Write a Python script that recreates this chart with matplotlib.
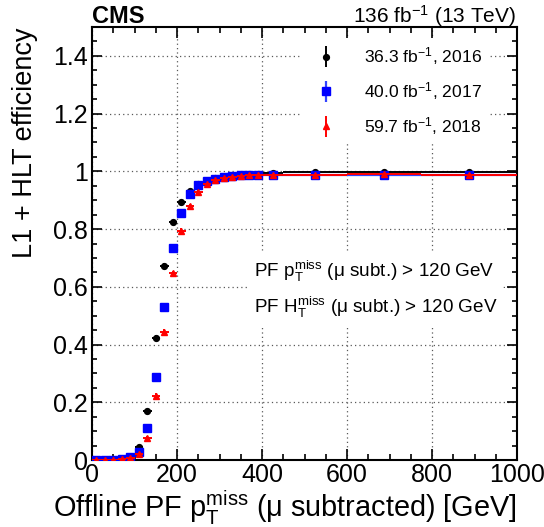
import matplotlib
matplotlib.use("Agg")
import matplotlib.pyplot as plt
import numpy as np
from matplotlib.ticker import MultipleLocator
from matplotlib.legend_handler import HandlerErrorbar
from matplotlib.container import ErrorbarContainer

plt.rcParams['font.family'] = ['Liberation Sans', 'DejaVu Sans']
plt.rcParams['mathtext.fontset'] = 'custom'
plt.rcParams['mathtext.rm'] = 'Liberation Sans'
plt.rcParams['mathtext.it'] = 'Liberation Sans'
plt.rcParams['mathtext.bf'] = 'Liberation Sans:bold'

# ---- data ----
bin_centers = [10, 30, 50, 70, 90, 110, 130, 150, 170, 190, 210, 230, 250, 270,
               290, 310, 330, 350, 370, 390, 425, 525, 687.5, 887.5]
bin_half_widths = [10] * 20 + [25, 75, 87.5, 112.5]

eff_2016 = [0.0, 0.0, 0.001, 0.003, 0.008, 0.044, 0.170, 0.423, 0.672, 0.823,
            0.893, 0.931, 0.955, 0.968, 0.977, 0.982, 0.985, 0.988, 0.990, 0.991,
            0.993, 0.996, 0.998, 0.998]
eff_2017 = [0.0, 0.0, 0.001, 0.004, 0.010, 0.026, 0.110, 0.289, 0.529, 0.734,
            0.857, 0.921, 0.952, 0.966, 0.975, 0.980, 0.983, 0.986, 0.987, 0.988,
            0.988, 0.989, 0.989, 0.988]
eff_2018 = [0.0, 0.0, 0.001, 0.003, 0.007, 0.021, 0.077, 0.223, 0.444, 0.647,
            0.795, 0.880, 0.929, 0.955, 0.969, 0.976, 0.981, 0.985, 0.986, 0.986,
            0.988, 0.989, 0.990, 0.989]
err_2016 = [0.001, 0.001, 0.001, 0.002, 0.003, 0.005, 0.008, 0.010, 0.010, 0.009,
            0.008, 0.007, 0.006, 0.005, 0.004, 0.004, 0.004, 0.003, 0.003, 0.003,
            0.002, 0.002, 0.002, 0.003]
err_2017 = [0.001, 0.001, 0.001, 0.002, 0.003, 0.004, 0.007, 0.009, 0.010, 0.009,
            0.007, 0.006, 0.005, 0.004, 0.004, 0.003, 0.003, 0.003, 0.003, 0.003,
            0.002, 0.002, 0.002, 0.003]
err_2018 = [0.001, 0.001, 0.001, 0.002, 0.003, 0.004, 0.006, 0.008, 0.009, 0.008,
            0.007, 0.006, 0.005, 0.004, 0.003, 0.003, 0.003, 0.002, 0.002, 0.002,
            0.002, 0.002, 0.002, 0.002]

labels = [r'36.3 fb$^{-1}$, 2016', r'40.0 fb$^{-1}$, 2017', r'59.7 fb$^{-1}$, 2018']
ytick_vals = [0, 0.2, 0.4, 0.6, 0.8, 1.0, 1.2, 1.4]
ytick_labels = ['0', '0.2', '0.4', '0.6', '0.8', '1', '1.2', '1.4']

# ---- figure ----
fig = plt.figure(figsize=(5.44, 5.27), dpi=100)
ax = fig.add_axes([92/544, 1-460/527, 425/544, 433/527])

x = np.array(bin_centers)
xe = np.array(bin_half_widths)

h1 = ax.errorbar(x, eff_2016, xerr=xe, yerr=err_2016, fmt='o', color='black',
                 ms=4.2, elinewidth=1.4, capsize=0, zorder=3)
h2 = ax.errorbar(x, eff_2017, xerr=xe, yerr=err_2017, fmt='s', color='#0000ff',
                 ecolor='#3344ff', ms=5.5, elinewidth=1.6, capsize=0, zorder=4)
h3 = ax.errorbar(x, eff_2018, xerr=xe, yerr=err_2018, fmt='^', color='#ff0000',
                 ms=5.0, elinewidth=1.4, capsize=0, zorder=5)

ax.set_xlim(0, 1000)
ax.set_ylim(0, 1.5)
ax.xaxis.set_major_locator(MultipleLocator(200))
ax.xaxis.set_minor_locator(MultipleLocator(50))
ax.yaxis.set_minor_locator(MultipleLocator(0.05))
ax.set_yticks(ytick_vals)
ax.set_yticklabels(ytick_labels)
ax.tick_params(which='both', direction='in', top=True, right=True, labelsize=18)
ax.tick_params(axis='x', which='major', length=8, width=1.2, pad=2)
ax.tick_params(axis='x', which='minor', length=4, width=1.2)
ax.tick_params(axis='y', which='major', length=7, width=1.2, pad=3)
ax.tick_params(axis='y', which='minor', length=3.5, width=1.2)
for s in ax.spines.values():
    s.set_linewidth(1.5)
ax.grid(True, which='major', linestyle=(0, (1, 2.5)), color='0.35', linewidth=0.9)
ax.set_axisbelow(True)

ax.set_xlabel(r'Offline PF $\mathrm{p}_{\mathrm{T}}^{\mathrm{miss}}$ ($\mu$ subtracted) [GeV]',
              fontsize=20.8, loc='right', va='baseline')
ax.xaxis.set_label_coords(1.0, (460-517)/433)
ax.set_ylabel('L1 + HLT efficiency', fontsize=19.5, loc='top')
ax.yaxis.set_label_coords(-0.127, 1 - 1/433)

leg = ax.legend([h1, h2, h3], labels, loc='upper left',
                bbox_to_anchor=(300/544, 1-38/527), bbox_transform=fig.transFigure,
                fontsize=12.6, frameon=True, fancybox=False, framealpha=1,
                edgecolor='none', borderpad=0.43, borderaxespad=0, handlelength=2.14,
                handletextpad=1.07, labelspacing=0.73,
                handler_map={ErrorbarContainer: HandlerErrorbar(xerr_size=0, yerr_size=0.6)})
leg.set_zorder(6)

ax.text((254-92)/425, (460-277)/433, r'PF $\mathrm{p}_{\mathrm{T}}^{\mathrm{miss}}$ ($\mu$ subt.) > 120 GeV',
        transform=ax.transAxes, fontsize=13.6, ha='left', va='baseline',
        bbox=dict(fc='white', ec='none', pad=5), zorder=6)
ax.text((254-92)/425, (460-313)/433, r'PF $\mathrm{H}_{\mathrm{T}}^{\mathrm{miss}}$ ($\mu$ subt.) > 120 GeV',
        transform=ax.transAxes, fontsize=13.6, ha='left', va='baseline',
        bbox=dict(fc='white', ec='none', pad=5), zorder=6)

fig.text(92/544, 1-23/527, 'CMS', fontsize=17, fontweight='bold', ha='left', va='baseline')
fig.text(516/544, 1-23/527, r'136 fb$^{-1}$ (13 TeV)', fontsize=15, ha='right', va='baseline')

fig.savefig('out.png', dpi=100)
